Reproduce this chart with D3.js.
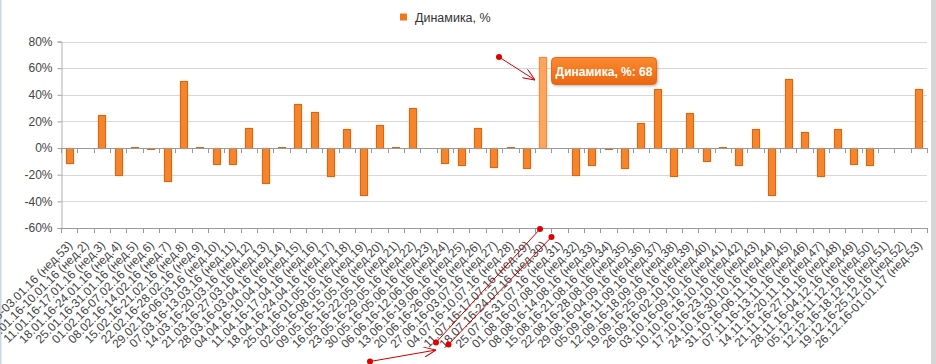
<!DOCTYPE html>
<html>
<head>
<meta charset="utf-8">
<script src="https://cdn.jsdelivr.net/npm/d3@7"></script>
<style>
  html, body { margin: 0; padding: 0; background: #fff; }
  svg { display: block; font-family: "Liberation Sans", Arial, sans-serif; }
</style>
</head>
<body>
<div id="chart"></div>
<script>
// недели
const weeks = [
  '28.12.15-03.01.16 (нед.53)', '04.01.16-10.01.16 (нед.2)', '11.01.16-17.01.16 (нед.3)',
  '18.01.16-24.01.16 (нед.4)', '25.01.16-31.01.16 (нед.5)', '01.02.16-07.02.16 (нед.6)',
  '08.02.16-14.02.16 (нед.7)', '15.02.16-21.02.16 (нед.8)', '22.02.16-28.02.16 (нед.9)',
  '29.02.16-06.03.16 (нед.10)', '07.03.16-13.03.16 (нед.11)', '14.03.16-20.03.16 (нед.12)',
  '21.03.16-27.03.16 (нед.13)', '28.03.16-03.04.16 (нед.14)', '04.04.16-10.04.16 (нед.15)',
  '11.04.16-17.04.16 (нед.16)', '18.04.16-24.04.16 (нед.17)', '25.04.16-01.05.16 (нед.18)',
  '02.05.16-08.05.16 (нед.19)', '09.05.16-15.05.16 (нед.20)', '16.05.16-22.05.16 (нед.21)',
  '23.05.16-29.05.16 (нед.22)', '30.05.16-05.06.16 (нед.23)', '06.06.16-12.06.16 (нед.24)',
  '13.06.16-19.06.16 (нед.25)', '20.06.16-26.06.16 (нед.26)', '27.06.16-03.07.16 (нед.27)',
  '04.07.16-10.07.16 (нед.28)', '11.07.16-17.07.16 (нед.29)', '18.07.16-24.07.16 (нед.30)',
  '25.07.16-31.07.16 (нед.31)', '01.08.16-07.08.16 (нед.32)', '08.08.16-14.08.16 (нед.33)',
  '15.08.16-21.08.16 (нед.34)', '22.08.16-28.08.16 (нед.35)', '29.08.16-04.09.16 (нед.36)',
  '05.09.16-11.09.16 (нед.37)', '12.09.16-18.09.16 (нед.38)', '19.09.16-25.09.16 (нед.39)',
  '26.09.16-02.10.16 (нед.40)', '03.10.16-09.10.16 (нед.41)', '10.10.16-16.10.16 (нед.42)',
  '17.10.16-23.10.16 (нед.43)', '24.10.16-30.10.16 (нед.44)', '31.10.16-06.11.16 (нед.45)',
  '07.11.16-13.11.16 (нед.46)', '14.11.16-20.11.16 (нед.47)', '21.11.16-27.11.16 (нед.48)',
  '28.11.16-04.12.16 (нед.49)', '05.12.16-11.12.16 (нед.50)', '12.12.16-18.12.16 (нед.51)',
  '19.12.16-25.12.16 (нед.52)', '26.12.16-01.01.17 (нед.53)'
];

// Динамика, %
const dynamics = [
  -11, 0, 25, -20, 1, -1, -25, 50, 1, -12,
  -12, 15, -26, 1, 33, 27, -21, 14, -35, 17,
  1, 30, 0, -11, -13, 15, -14, 1, -15, 68,
  0, -20, -13, -1, -15, 19, 44, -21, 26, -10,
  1, -13, 14, -35, 52, 12, -21, 14, -12, -13,
  0, 0, 44
];

const yTicks = [-60, -40, -20, 0, 20, 40, 60, 80];
const seriesName = 'Динамика, %';
const hoverIndex = 29;

const width = 936, height = 364;
const margin = { top: 41.5, right: 9, bottom: 136, left: 61 };

const svg = d3.select('#chart').append('svg')
  .attr('width', width)
  .attr('height', height);

const defs = svg.append('defs');
const tipGrad = defs.append('linearGradient')
  .attr('id', 'tipGrad').attr('x1', 0).attr('y1', 0).attr('x2', 0).attr('y2', 1);
tipGrad.append('stop').attr('offset', '0%').attr('stop-color', '#fa8a30');
tipGrad.append('stop').attr('offset', '100%').attr('stop-color', '#ec660f');

const shadow = defs.append('filter').attr('id', 'shadow')
  .attr('x', '-20%').attr('y', '-30%').attr('width', '150%').attr('height', '180%');
shadow.append('feDropShadow')
  .attr('dx', 1).attr('dy', 1).attr('stdDeviation', 1.5)
  .attr('flood-color', '#000').attr('flood-opacity', 0.3);

const glow = defs.append('filter').attr('id', 'glow')
  .attr('x', '-50%').attr('y', '-10%').attr('width', '200%').attr('height', '120%');
glow.append('feDropShadow')
  .attr('dx', 0).attr('dy', 0).attr('stdDeviation', 1)
  .attr('flood-color', '#ffb060').attr('flood-opacity', 0.6);

const x = d3.scaleBand()
  .domain(weeks)
  .range([margin.left, width - margin.right])
  .paddingInner(0).paddingOuter(0);

const y = d3.scaleLinear()
  .domain([-60, 80])
  .range([height - margin.bottom, margin.top]);

// frame edges
svg.append('rect').attr('x', 0).attr('y', 0).attr('width', 1.5).attr('height', height)
  .attr('fill', '#cdd6e2');
svg.append('rect').attr('x', 931).attr('y', 0).attr('width', 5).attr('height', height)
  .attr('fill', '#d6d6d6');

// grid
svg.append('g')
  .selectAll('line')
  .data(yTicks.filter(d => d !== -60 && d !== 0))
  .join('line')
  .attr('x1', margin.left).attr('x2', width - margin.right)
  .attr('y1', d => Math.round(y(d)) + 0.5).attr('y2', d => Math.round(y(d)) + 0.5)
  .attr('stroke', '#d8d8d8');

// y axis
const yAxis = svg.append('g')
  .attr('transform', `translate(${margin.left + 0.5},0)`)
  .call(d3.axisLeft(y).tickValues(yTicks).tickSize(4).tickPadding(5)
    .tickFormat(d => d + '%'));
yAxis.select('.domain').attr('stroke', '#b0b0b0');
yAxis.selectAll('.tick line').attr('stroke', '#a0a0a0');
yAxis.selectAll('.tick text')
  .attr('fill', '#444')
  .attr('font-size', 12)
  .attr('font-family', '"Liberation Sans", Arial, sans-serif');

// boundaries for tick marks
const bounds = weeks.map(w => x(w)).concat([x(weeks[weeks.length - 1]) + x.bandwidth()]);

function drawAxisLine(yPos) {
  const g = svg.append('g');
  g.append('line')
    .attr('x1', margin.left).attr('x2', width - margin.right)
    .attr('y1', Math.round(yPos) + 0.5).attr('y2', Math.round(yPos) + 0.5)
    .attr('stroke', '#999');
  g.selectAll('.tk')
    .data(bounds)
    .join('line')
    .attr('class', 'tk')
    .attr('x1', d => Math.round(d) + 0.5).attr('x2', d => Math.round(d) + 0.5)
    .attr('y1', Math.round(yPos)).attr('y2', Math.round(yPos) + 5)
    .attr('stroke', '#999');
}

// bars
const barW = x.bandwidth() * 0.44;
svg.append('g')
  .selectAll('rect')
  .data(dynamics)
  .join('rect')
  .attr('x', (d, i) => Math.round(x(weeks[i]) + (x.bandwidth() - barW) / 2) + 0.5)
  .attr('y', d => Math.round(y(Math.max(0, d))) + 0.5)
  .attr('width', Math.round(barW))
  .attr('height', d => Math.abs(Math.round(y(d)) - Math.round(y(0))))
  .attr('fill', (d, i) => i === hoverIndex ? '#ffa45c' : '#f7842a')
  .attr('stroke', (d, i) => i === hoverIndex ? '#f58a3a' : '#cf6a1e')
  .attr('stroke-width', 1)
  .attr('filter', 'url(#glow)');

drawAxisLine(y(0));
drawAxisLine(y(-60));

// x labels
svg.append('g')
  .selectAll('text')
  .data(weeks)
  .join('text')
  .attr('transform', d => `translate(${x(d) + x.bandwidth() / 2 + 4},246) rotate(-45)`)
  .attr('text-anchor', 'end')
  .attr('font-size', 12)
  .attr('fill', '#444')
  .text(d => d);

// legend
const legend = svg.append('g').attr('transform', 'translate(400,13.5)');
legend.append('rect').attr('width', 7).attr('height', 7).attr('fill', '#f07818');
legend.append('text')
  .attr('x', 15).attr('y', 8)
  .attr('font-size', 12.5).attr('fill', '#333')
  .text(seriesName);

// tooltip
const tip = svg.append('g').attr('transform', 'translate(551.5,57.5)');
tip.append('rect')
  .attr('width', 105).attr('height', 27).attr('rx', 4)
  .attr('fill', 'url(#tipGrad)')
  .attr('stroke', '#e86a18')
  .attr('filter', 'url(#shadow)');
tip.append('text')
  .attr('x', 52.5).attr('y', 18)
  .attr('text-anchor', 'middle')
  .attr('font-size', 12).attr('font-weight', 'bold')
  .attr('fill', '#fff')
  .text(`${seriesName}: ${dynamics[hoverIndex]}`);

// red annotations
const red = '#d00000';
const ann = svg.append('g');
defs.append('marker')
  .attr('id', 'arrow').attr('viewBox', '0 0 12 10')
  .attr('refX', 12).attr('refY', 5)
  .attr('markerWidth', 12).attr('markerHeight', 10)
  .attr('markerUnits', 'userSpaceOnUse')
  .attr('orient', 'auto')
  .append('path').attr('d', 'M0,0 L12,5 L0,10')
  .attr('fill', 'none').attr('stroke', red).attr('stroke-width', 1);

const arrows = [[499, 57, 535, 80], [370, 361.5, 436, 350]];
const brackets = [[540, 229, 436, 342.5], [551.5, 237, 448.5, 344.5]];
ann.selectAll('.arr').data(arrows).join('line').attr('class', 'arr')
  .attr('x1', d => d[0]).attr('y1', d => d[1]).attr('x2', d => d[2]).attr('y2', d => d[3])
  .attr('stroke', red).attr('stroke-width', 1).attr('marker-end', 'url(#arrow)');
ann.selectAll('.br').data(brackets).join('line').attr('class', 'br')
  .attr('x1', d => d[0]).attr('y1', d => d[1]).attr('x2', d => d[2]).attr('y2', d => d[3])
  .attr('stroke', red).attr('stroke-width', 1);
const dots = arrows.map(d => [d[0], d[1]])
  .concat(brackets.flatMap(d => [[d[0], d[1]], [d[2], d[3]]]));
ann.selectAll('circle').data(dots).join('circle')
  .attr('cx', d => d[0]).attr('cy', d => d[1]).attr('r', 3)
  .attr('fill', '#e00000');
</script>
</body>
</html>
